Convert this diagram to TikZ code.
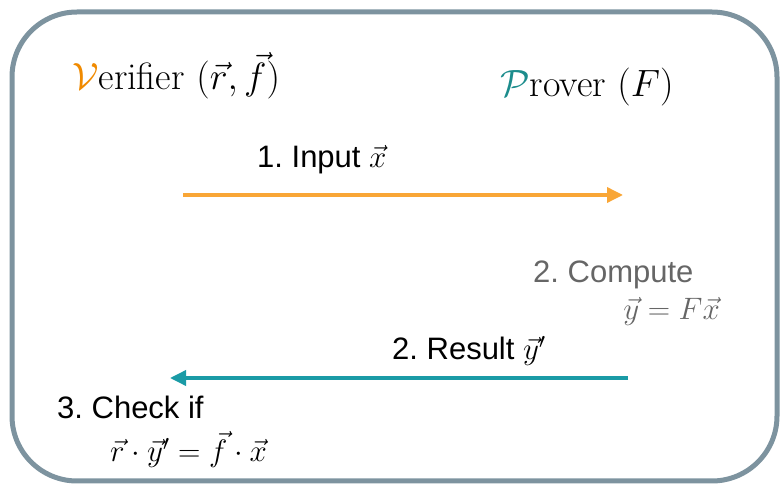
\RequirePackage{fix-cm}
\documentclass[tikz,border=0pt]{standalone}
\usepackage{amsmath}
\usepackage{fontspec}
\setsansfont{Liberation Sans}
\frenchspacing
\usetikzlibrary{arrows.meta}
\definecolor{frame}{HTML}{7D939F}
\definecolor{verif}{HTML}{F08A00}
\definecolor{prov} {HTML}{1C8C8C}
\definecolor{send} {HTML}{F9A636}
\definecolor{reply}{HTML}{1A9BA6}
\definecolor{note} {HTML}{666666}

\begin{document}
\begin{tikzpicture}[x=1pt, y=-1pt,
    party/.style={inner sep=0pt, anchor=base west, font=\fontsize{38}{44}\selectfont},
    msg/.style={inner sep=0pt, anchor=base west, font=\sffamily\fontsize{31}{37}\selectfont},
    flow/.style={line width=3.5pt, -{Triangle[length=16pt, width=15pt]}}]
  \useasboundingbox (0,0) rectangle (780,486);
  \draw[frame, line width=5pt, rounded corners=65pt] (12,12) rectangle (777,481);

  % the two parties
  \node[party] (verifier) at (72,90) {{\color{verif}$\mathcal{V}$}erifier $(\vec{r},\vec{f})$};
  \node[party] (prover) at (500,97) {{\color{prov}$\mathcal{P}$}rover $(F)$};

  % steps
  \node[msg] (input) at (257,168) {1. Input $\vec{x}$};
  \node[msg, text=note] (compute) at (533,283) {2. Compute};
  \node[msg, text=note, anchor=base east] (product) at (720,320) {$\vec{y}=F\vec{x}$};
  \node[msg] (result) at (392,360) {2. Result $\vec{y}'$};
  \node[msg] (check) at (57,419) {3. Check if};
  \node[msg] (test) at (110,462) {$\vec{r}\cdot\vec{y}'=\vec{f}\cdot\vec{x}$};

  \coordinate (vsend) at (183,195);
  \coordinate (precv) at (623,195);
  \coordinate (psend) at (628,378);
  \coordinate (vrecv) at (170,378);
  \draw[flow, send] (vsend) -- (precv);
  \draw[flow, reply] (psend) -- (vrecv);
\end{tikzpicture}
\end{document}
